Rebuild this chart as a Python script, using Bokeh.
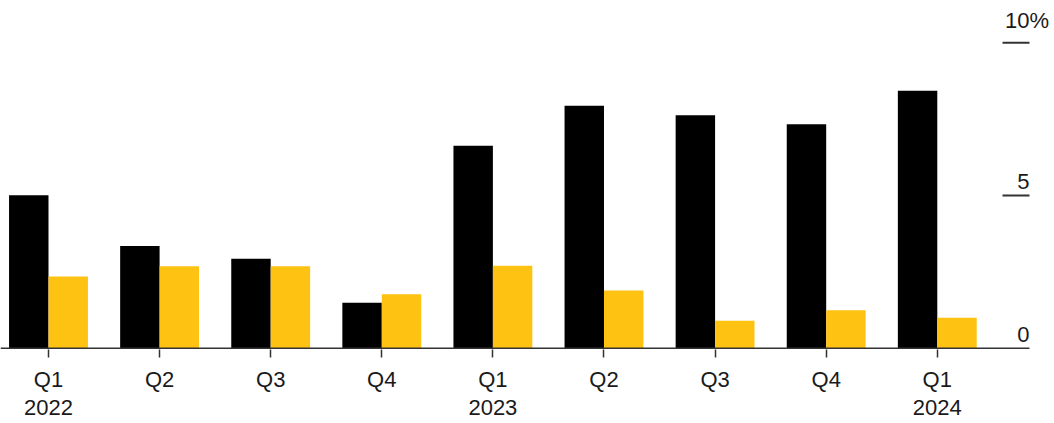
from bokeh.plotting import figure
from bokeh.models import ColumnDataSource, FixedTicker, Range1d
from bokeh.core.properties import value
from bokeh.embed import file_html
from bokeh.resources import INLINE

# Quarterly growth rates, percent
quarters = ["Q1", "Q2", "Q3", "Q4", "Q1", "Q2", "Q3", "Q4", "Q1"]
years = ["2022", "", "", "", "2023", "", "", "", "2024"]
series_black = [5.01, 3.35, 2.93, 1.49, 6.63, 7.94, 7.63, 7.33, 8.43]
series_yellow = [2.35, 2.68, 2.68, 1.77, 2.70, 1.89, 0.90, 1.24, 1.00]

y_ticks = [0, 5, 10]
y_tick_labels = ["0", "5", "10"]

FONT = "Liberation Sans"
TEXT_COLOR = "#1a1a1a"
LINE_COLOR = "#333333"
BLACK = "#000000"
YELLOW = "#FDC212"
BAR_W = 0.355

xs = list(range(len(quarters)))
src = ColumnDataSource(dict(
    xb=[x - BAR_W / 2 for x in xs],
    xy=[x + BAR_W / 2 for x in xs],
    black=series_black,
    yellow=series_yellow,
))

p = figure(
    width=1054, height=423,
    x_range=Range1d(-0.432, 9.055),
    y_range=Range1d(-0.0426, 11.385),
    output_backend="svg", toolbar_location=None,
    min_border_left=0, min_border_right=0, min_border_top=0, min_border_bottom=74,
)
p.outline_line_color = None
p.background_fill_color = "white"
p.border_fill_color = "white"
p.grid.visible = False
p.yaxis.visible = False

p.vbar(x="xb", top="black", width=BAR_W, bottom=0, source=src,
       fill_color=BLACK, line_color=None)
p.vbar(x="xy", top="yellow", width=BAR_W, bottom=0, source=src,
       fill_color=YELLOW, line_color=None)

# right-hand value scale: short rules with labels sitting above them
TICK_X0, TICK_X1 = 8.587, 8.830
p.segment(x0=[p.x_range.start], y0=[0], x1=[TICK_X1], y1=[0],
          line_color=LINE_COLOR, line_width=1.6)
p.segment(x0=[TICK_X0] * 2, y0=y_ticks[1:], x1=[TICK_X1] * 2, y1=y_ticks[1:],
          line_color=LINE_COLOR, line_width=2)

# the top label is lifted further clear of its rule
label_src = ColumnDataSource(dict(
    x=[TICK_X1] * len(y_ticks),
    y=y_ticks,
    text=y_tick_labels,
    dy=[-14, -14, -22],
))
p.text(x="x", y="y", text="text", y_offset="dy", source=label_src,
       text_align="right", text_baseline="alphabetic",
       text_font=value(FONT), text_font_size="22px", text_color=TEXT_COLOR)
p.text(x=[TICK_X1], y=[y_ticks[-1]], text=["%"],
       text_align="left", text_baseline="alphabetic", y_offset=-22,
       text_font=value(FONT), text_font_size="22px", text_color=TEXT_COLOR)

# bottom category axis
xa = p.xaxis[0]
xa.ticker = FixedTicker(ticks=xs)
xa.major_label_overrides = {
    x: (q + "\n" + y if y else q) for x, q, y in zip(xs, quarters, years)
}
xa.axis_line_color = None
xa.minor_tick_line_color = None
xa.major_tick_in = 0
xa.major_tick_out = 8
xa.major_tick_line_color = LINE_COLOR
xa.major_tick_line_width = 1.5
xa.major_label_standoff = 9
xa.major_label_text_line_height = 1.15
xa.major_label_text_font = FONT
xa.major_label_text_font_size = "22px"
xa.major_label_text_color = TEXT_COLOR

open("out.html", "w").write(file_html(p, INLINE))
